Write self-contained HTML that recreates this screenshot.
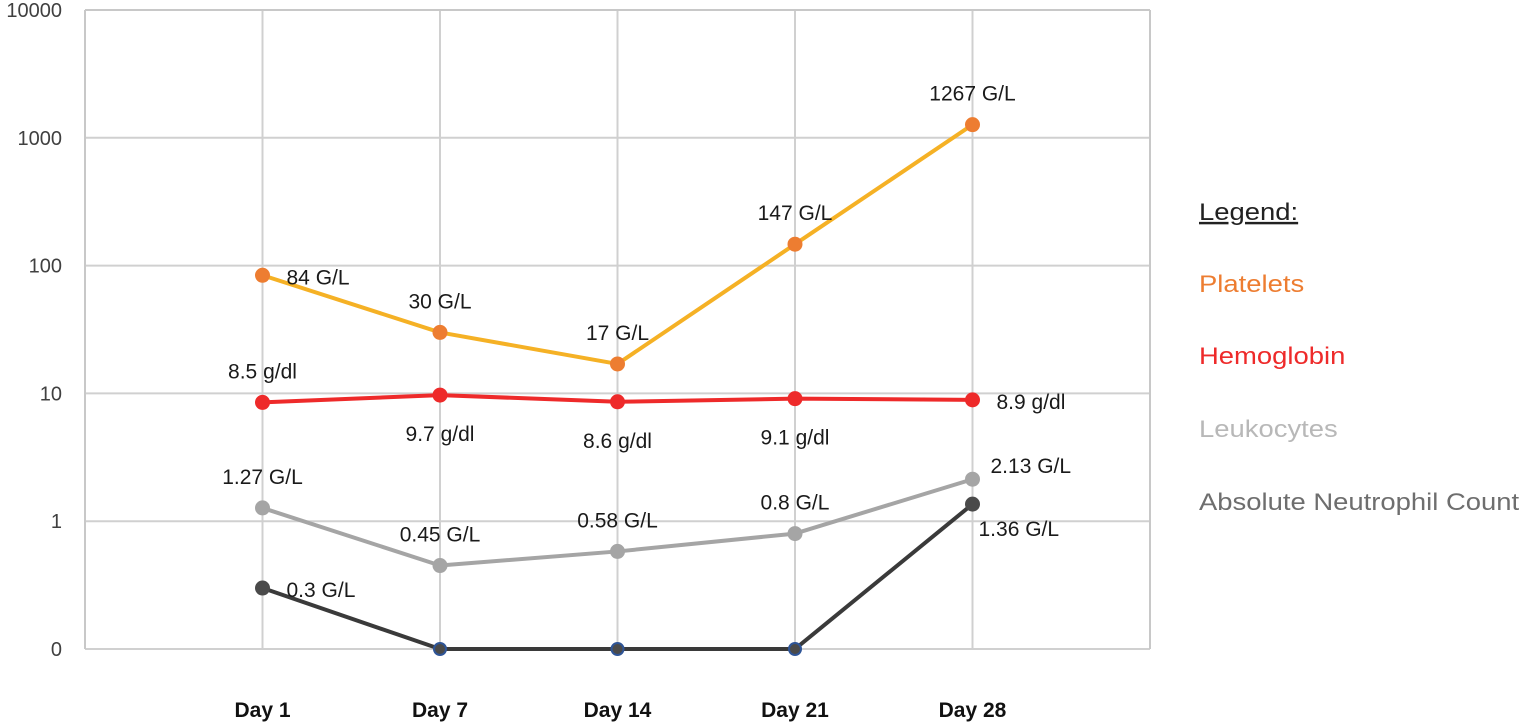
<!DOCTYPE html>
<html><head><meta charset="utf-8"><style>
body{margin:0;background:#fff;}
svg{display:block;font-family:"Liberation Sans",sans-serif;}
</style></head><body>
<svg id="chart" width="1524" height="723"></svg>
<script>
const categories=["Day 1","Day 7","Day 14","Day 21","Day 28"];
const yTicks=[0.1,1,10,100,1000,10000];
const yTickLabels=["0","1","10","100","1000","10000"];
const platelets=[84,30,17,147,1267];
const plateletLabels=["84 G/L","30 G/L","17 G/L","147 G/L","1267 G/L"];
const plateletPlace=["right","above","above","above","above"];
const hemoglobin=[8.5,9.7,8.6,9.1,8.9];
const hemoglobinLabels=["8.5 g/dl","9.7 g/dl","8.6 g/dl","9.1 g/dl","8.9 g/dl"];
const hemoglobinPlace=["above","below","below","below","right"];
const leukocytes=[1.27,0.45,0.58,0.8,2.13];
const leukocyteLabels=["1.27 G/L","0.45 G/L","0.58 G/L","0.8 G/L","2.13 G/L"];
const leukocytePlace=["above","above","above","above","rightup"];
const anc=[0.3,0,0,0,1.36];
const ancLabels=["0.3 G/L","","","","1.36 G/L"];
const ancPlace=["right","none","none","none","rightdown"];

const NS="http://www.w3.org/2000/svg";
const svg=document.getElementById('chart');
const L=85,R=1150,T=10,B=649;
const xPos=i=>L+(R-L)/6*(i+1);
const yPos=v=>{const vv=Math.max(v,0.1);return B-(Math.log10(vv)+1)/5*(B-T);};
function el(tag,attrs,parent){const e=document.createElementNS(NS,tag);for(const k in attrs)e.setAttribute(k,attrs[k]);(parent||svg).appendChild(e);return e;}

yTicks.forEach((t,i)=>{
  const g=el('line',{x1:L,x2:R,y1:yPos(t),y2:yPos(t),stroke:'#d0d0d0','stroke-width':2});
  
  
  const tx=el('text',{x:62,y:yPos(t)+7,'text-anchor':'end','font-size':20,fill:'#404040'});
  tx.textContent=yTickLabels[i];
  
  
});
categories.forEach((c,i)=>{
  const g=el('line',{x1:xPos(i),x2:xPos(i),y1:T,y2:B,stroke:'#d0d0d0','stroke-width':2});
  
  
  const tx=el('text',{x:xPos(i),y:717,'text-anchor':'middle','font-size':21,'font-weight':'bold',fill:'#111'});
  tx.textContent=c;
  
  
});
[[L,T,L,B],[R,T,R,B],[L,T,R,T]].forEach(a=>{
  const b=el('line',{x1:a[0],y1:a[1],x2:a[2],y2:a[3],stroke:'#c8c8c8','stroke-width':2});
  
  
});

function series(name,vals,labels,place,lineColor,dotColor,special){
  const pts=vals.map((v,i)=>xPos(i)+','+yPos(v)).join(' ');
  const pl=el('polyline',{points:pts,fill:'none',stroke:lineColor,'stroke-width':4,'stroke-linejoin':'round'});
  
  
  vals.forEach((v,i)=>{
    const zero=special&&v<=0;
    const c=el('circle',{cx:xPos(i),cy:yPos(v),r:zero?6:7.5,fill:dotColor,stroke:zero?'#2f5597':'none','stroke-width':2});
    
    
    const p=place[i];
    if(p==='none'||!labels[i])return;
    let x=xPos(i),y=yPos(v),anchor='middle';
    if(p==='above'){y-=24;}
    else if(p==='below'){y+=46;}
    else if(p==='right'){x+=24;y+=9;anchor='start';}
    else if(p==='rightup'){x+=18;y-=6;anchor='start';}
    else if(p==='rightdown'){x+=6;y+=32;anchor='start';}
    const t=el('text',{x:x,y:y,'text-anchor':anchor,'font-size':21,fill:'#1a1a1a'});
    t.textContent=labels[i];
    
    
  });
}
series('anc',anc,ancLabels,ancPlace,'#3a3a3a','#4a4a4a',true);
series('leukocytes',leukocytes,leukocyteLabels,leukocytePlace,'#a5a5a5','#a5a5a5');
series('hemoglobin',hemoglobin,hemoglobinLabels,hemoglobinPlace,'#ee2a2a','#ee2a2a');
series('platelets',platelets,plateletLabels,plateletPlace,'#f5b125','#ed7d31');

const lg=[["Legend:",'#222',220],["Platelets",'#ed7d31',292],["Hemoglobin",'#ee2a2a',364],["Leukocytes",'#b8b8b8',437],["Absolute Neutrophil Count",'#6e6e6e',510]];
lg.forEach((d,i)=>{
  const t=el('text',{x:1199,y:d[2],'font-size':24.5,fill:d[1],transform:'translate(1199,0) scale(1.12,1) translate(-1199,0)'});
  t.textContent=d[0];
  if(i===0){t.setAttribute('text-decoration','underline');}
  
  
});
</script>
</body></html>
